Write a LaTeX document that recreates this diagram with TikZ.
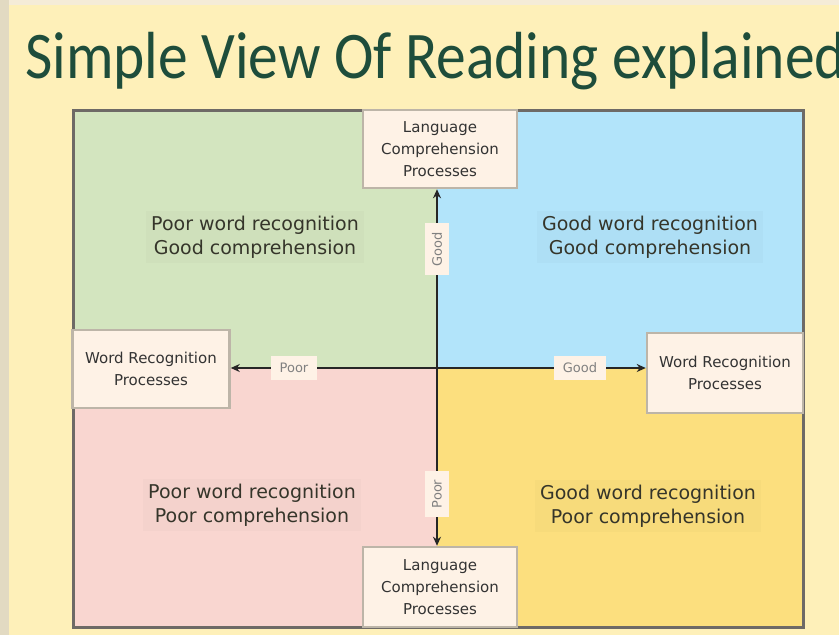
\documentclass[tikz,border=0pt]{standalone}
\usepackage{fontspec}
\setmainfont{DejaVu Sans}
\newfontfamily\titlefont{Carlito}
\usetikzlibrary{arrows.meta,calc}

\definecolor{bgyellow}{HTML}{FEF0B9}
\definecolor{edgegray}{HTML}{E2DAC2}
\definecolor{topstrip}{HTML}{F5ECD8}
\definecolor{titlegreen}{HTML}{1E4D3B}
\definecolor{quadgreen}{HTML}{D3E5BF}
\definecolor{quadblue}{HTML}{B2E4FA}
\definecolor{quadpink}{HTML}{F9D6D0}
\definecolor{quadyellow}{HTML}{FCDF7E}
\definecolor{framegray}{HTML}{6E6A66}
\definecolor{boxfill}{HTML}{FEF2E6}
\definecolor{boxedge}{HTML}{BDB5A8}
\definecolor{boxtext}{HTML}{333333}
\definecolor{labeltext}{HTML}{808080}
\definecolor{quadtextcol}{HTML}{35352A}

\begin{document}
\begin{tikzpicture}[x=1pt, y=-1pt, >={Stealth[length=9pt,width=8pt]},
  procbox/.style={draw=boxedge, fill=boxfill, line width=2.5pt, minimum width=154pt, minimum height=78pt,
    align=center, inner sep=0pt, text=boxtext, font=\fontsize{15}{22}\selectfont},
  quadtext/.style={align=center, inner sep=5pt, text=quadtextcol, font=\fontsize{19}{24}\selectfont},
  axislabel/.style={fill=boxfill, text=labeltext, inner xsep=9pt, inner ysep=7pt, font=\fontsize{13}{15}\selectfont},
  axis/.style={<->, line width=2.5pt, draw=black!85}]
        % background and title
        \useasboundingbox (0,0) rectangle (839,635);
        \fill[bgyellow] (0,0) rectangle (839,635);
        \fill[topstrip] (0,0) rectangle (839,5);
        \fill[edgegray] (0,0) rectangle (9,635);
        \node[anchor=base west, inner sep=0pt, text=titlegreen] (title) at (25,78)
          {\scalebox{1}[1.12]{\titlefont\fontsize{59.5}{60}\selectfont Simple View Of Reading explained}};

        % quadrants
        \fill[quadgreen] (73,110) rectangle (437,368);
        \fill[quadblue] (437,110) rectangle (803,368);
        \fill[quadpink] (73,368) rectangle (437,627);
        \fill[quadyellow] (437,368) rectangle (803,627);
        \draw[framegray, line width=3pt] (73,110) rectangle (803,627);

        \node[quadtext, fill=quadgreen!98!black] (pwgc) at (255,237) {Poor word recognition\\ Good comprehension};
        \node[quadtext, fill=quadblue!98!black] (gwgc) at (650,237) {Good word recognition\\ Good comprehension};
        \node[quadtext, fill=quadpink!98!black] (pwpc) at (252,505) {Poor word recognition\\ Poor comprehension};
        \node[quadtext, fill=quadyellow!98!black] (gwpc) at (648,506) {Good word recognition\\ Poor comprehension};

        % process boxes
        \node[procbox] (lcTop) at (440,149) {Language\\ Comprehension\\ Processes};
        \node[procbox, minimum height=80pt] (lcBot) at (440,587) {Language\\ Comprehension\\ Processes};
        \node[procbox, minimum width=157pt] (wrLeft) at (151,369) {Word Recognition\\ Processes};
        \node[procbox, minimum width=156pt, minimum height=80pt] (wrRight) at (725,373) {Word Recognition\\ Processes};

        % axes
        \coordinate (ctr) at (437,368);
        \draw[axis] (ctr |- lcBot.north) -- (ctr |- lcTop.south);
        \draw[axis] (wrLeft.east |- ctr) -- (wrRight.west |- ctr);

        \node[axislabel, rotate=90] (goodV) at (437,249) {Good};
        \node[axislabel, rotate=90] (poorV) at (437,494) {Poor};
        \node[axislabel] (poorH) at (294,368) {Poor};
        \node[axislabel] (goodH) at (580,368) {Good};
    \end{tikzpicture}
\end{document}
